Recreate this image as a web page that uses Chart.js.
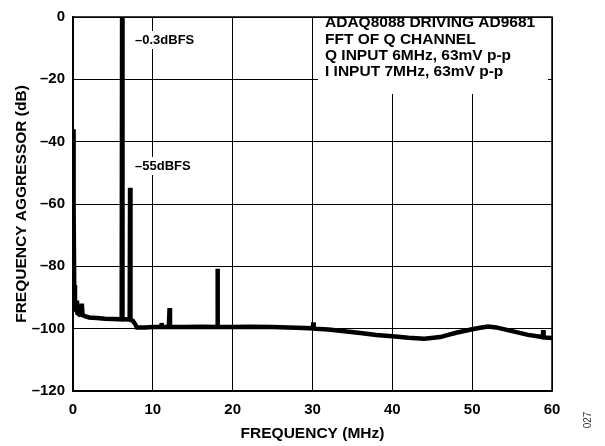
<!DOCTYPE html>
<html>
<head>
<meta charset="utf-8">
<script src="https://cdn.jsdelivr.net/npm/chart.js@4/dist/chart.umd.min.js"></script>
<style>
  html, body { margin: 0; padding: 0; background: #fff; }
  #wrap { width: 605px; height: 446px; position: relative; }
</style>
</head>
<body>
<div id="wrap"><canvas id="myChart"></canvas></div>
<script>
// FFT trace of Q channel (MHz, dB)
let freqMHz = [0, 0.05, 0.1, 0.15, 0.25, 0.4, 0.5, 0.55, 0.8, 1.0, 1.1, 1.2, 1.5, 2, 3, 4, 5,
  6.1, 6.15, 6.2, 6.5, 7.1, 7.15, 7.2, 7.5, 7.8, 8.0, 9, 10, 11.05, 11.1, 11.15, 12, 12.1, 12.15,
  14, 16, 18.05, 18.1, 18.15, 20, 22, 25, 28, 30.05, 30.1, 30.15, 32, 34, 36, 38, 40, 42, 44, 46,
  47, 48, 50, 51, 52, 53, 55, 57, 58.85, 58.9, 58.95, 60];
let levelDb = [-36, -42, -62, -86, -92, -94, -91, -95, -95.5, -95.3, -92, -95.7, -96, -96.4, -96.6, -96.8, -96.9,
  -97, 0, -97, -97, -97.1, -54.8, -97.2, -97.5, -98.6, -99.6, -99.6, -99.5, -99.4, -98.2, -99.5, -99.5, -93.4, -99.5,
  -99.5, -99.4, -99.5, -80.8, -99.5, -99.5, -99.4, -99.5, -99.7, -99.9, -98, -100, -100.3, -100.8, -101.4, -102, -102.4, -102.9, -103.2, -102.7,
  -102, -101.3, -100.2, -99.7, -99.3, -99.6, -100.8, -102, -102.7, -100.5, -102.8, -103];

let xTicks = [0, 10, 20, 30, 40, 50, 60];
let yTicks = [0, -20, -40, -60, -80, -100, -120];

let legendLines = ["ADAQ8088 DRIVING AD9681", "FFT OF Q CHANNEL", "Q INPUT 6MHz, 63mV p-p", "I INPUT 7MHz, 63mV p-p"];

let fontFamily = '"Liberation Sans", Arial, Helvetica, sans-serif';

let points = freqMHz.map(function (f, i) {
  return { x: f, y: levelDb[i] };
});

function labelWithBox(ctx, text, x, y) {
  let w = ctx.measureText(text).width;
  ctx.fillStyle = '#fff';
  ctx.fillRect(x - 2, y - 9, w + 4, 18);
  ctx.fillStyle = '#000';
  ctx.fillText(text, x, y);
}

let notes = {
  id: 'notes',
  afterDatasetsDraw(chart) {
    let ctx = chart.ctx;
    let area = chart.chartArea;
    ctx.save();
    ctx.textBaseline = 'middle';
    ctx.textAlign = 'left';

    // white box behind the condition text
    ctx.fillStyle = '#fff';
    ctx.fillRect(318, area.top + 1, 230, 76);
    ctx.fillStyle = '#000';
    ctx.font = 'bold 15.5px ' + fontFamily;
    legendLines.forEach(function (line, i) {
      ctx.fillText(line, 325, 23 + i * 16.4);
    });

    ctx.font = 'bold 13px ' + fontFamily;
    labelWithBox(ctx, '\u20130.3dBFS', 135, 40);
    labelWithBox(ctx, '\u201355dBFS', 135, 166);

    // figure number
    ctx.font = '10px ' + fontFamily;
    ctx.translate(588, 420);
    ctx.rotate(-Math.PI / 2);
    ctx.textAlign = 'center';
    ctx.fillStyle = '#333';
    ctx.fillText('027', 0, 0);
    ctx.restore();

    // frame on top/right
    ctx.save();
    ctx.strokeStyle = '#000';
    ctx.lineWidth = 1.5;
    ctx.strokeRect(area.left, area.top, area.right - area.left, area.bottom - area.top);
    ctx.restore();
  }
};

let ctx = document.getElementById('myChart');
let myChart = new Chart(ctx, {
  type: 'line',
  data: {
    datasets: [{
      data: points,
      borderColor: '#000',
      borderWidth: 4.5,
      pointRadius: 0,
      tension: 0,
      fill: false
    }]
  },
  options: {
    responsive: true,
    maintainAspectRatio: false,
    animation: false,
    devicePixelRatio: 1,
    layout: { padding: { top: 10, right: 53, bottom: 0, left: 0 } },
    plugins: { legend: { display: false }, tooltip: { enabled: false } },
    scales: {
      x: {
        type: 'linear',
        min: xTicks[0],
        max: xTicks[xTicks.length - 1],
        afterBuildTicks(scale) {
          scale.ticks = xTicks.map(v => ({ value: v }));
        },
        afterFit(scale) { scale.height = 55; },
        grid: { color: '#000', lineWidth: 1, drawTicks: false },
        border: { color: '#000', width: 1.5 },
        ticks: {
          padding: 10,
          color: '#000',
          font: { family: fontFamily, size: 15, weight: 'bold' },
          maxRotation: 0
        },
        title: {
          display: true,
          text: 'FREQUENCY (MHz)',
          color: '#000',
          font: { family: fontFamily, size: 15.5, weight: 'bold' },
          padding: { top: 0, bottom: 3 }
        }
      },
      y: {
        min: yTicks[yTicks.length - 1],
        max: yTicks[0],
        afterBuildTicks(scale) {
          scale.ticks = yTicks.slice().reverse().map(v => ({ value: v }));
        },
        afterFit(scale) { scale.width = 73; },
        grid: { color: '#000', lineWidth: 1, drawTicks: false },
        border: { color: '#000', width: 1.5 },
        ticks: {
          padding: 8,
          color: '#000',
          font: { family: fontFamily, size: 15, weight: 'bold' },
          callback: function (v) { return v < 0 ? '\u2013' + Math.abs(v) : String(v); }
        },
        title: {
          display: true,
          text: 'FREQUENCY AGGRESSOR (dB)',
          color: '#000',
          font: { family: fontFamily, size: 15.5, weight: 'bold' },
          padding: { top: 12, bottom: 0 }
        }
      }
    }
  },
  plugins: [notes]
});
</script>
</body>
</html>
